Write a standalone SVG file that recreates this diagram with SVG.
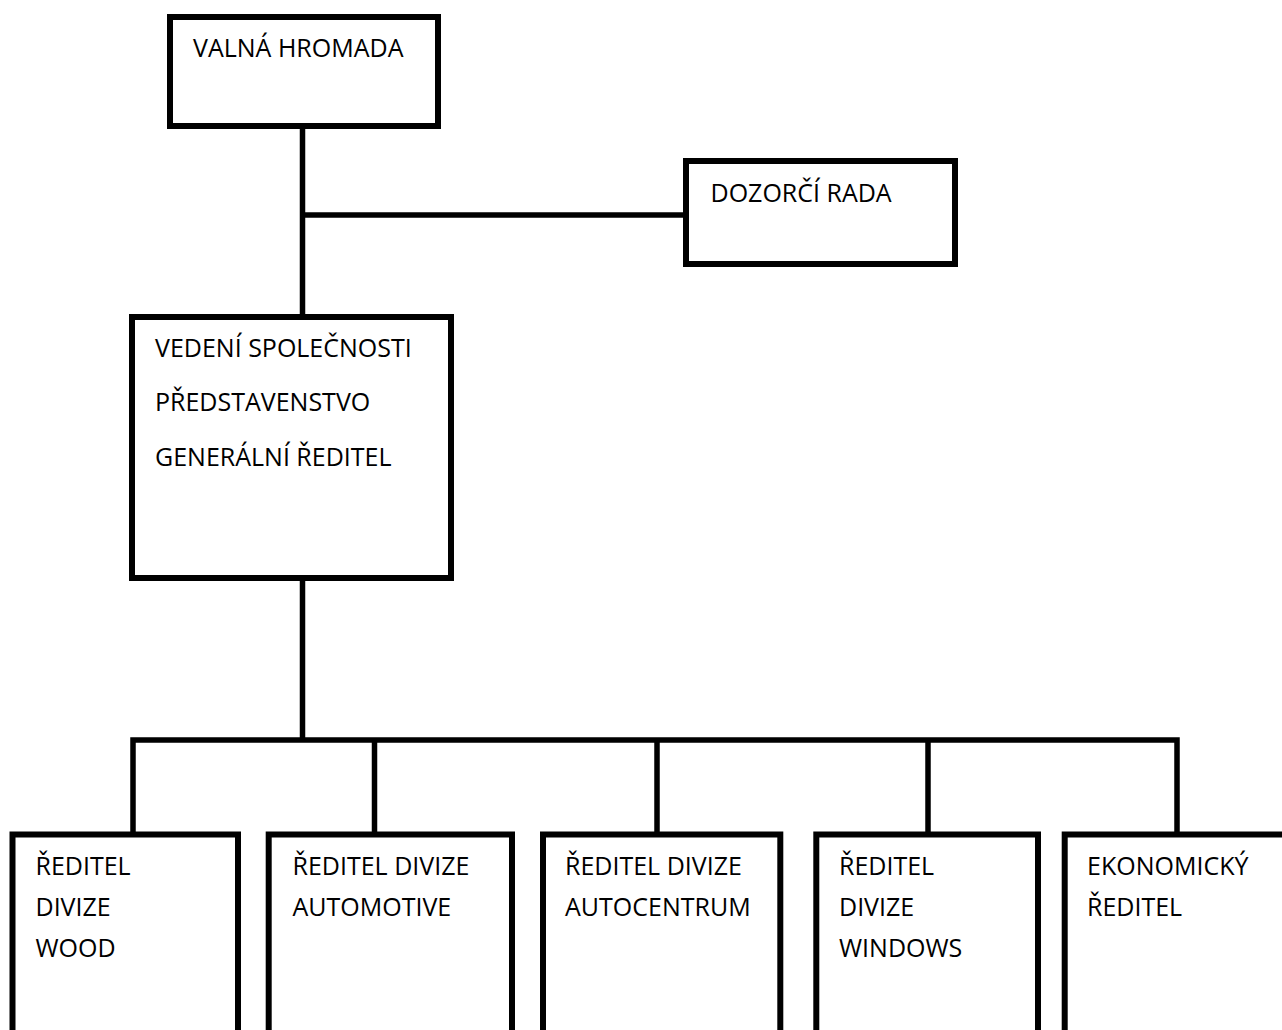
<svg xmlns="http://www.w3.org/2000/svg" width="1282" height="1030" viewBox="0 0 1282 1030">
  <style>
    .box { fill: #ffffff; stroke: #000000; stroke-width: 6; }
    .link { fill: none; stroke: #000000; stroke-width: 5.5; stroke-linejoin: miter; stroke-linecap: butt; }
    .label { font-family: "Open Sans", "Noto Sans", "Liberation Sans", sans-serif; font-size: 25px; fill: #000000; }
  </style>
  <rect width="1282" height="1030" fill="#ffffff"/>

  <!-- connectors -->
  <g id="connectors">
    <path class="link" d="M302.5,126 V317"/>
    <path class="link" d="M302.5,215 H686"/>
    <path class="link" d="M302.5,578 V740"/>
    <path class="link" d="M133,834.5 V740 H1177 V834.5"/>
    <path class="link" d="M374.5,740 V834.5"/>
    <path class="link" d="M657,740 V834.5"/>
    <path class="link" d="M928,740 V834.5"/>
  </g>

  <!-- general meeting -->
  <g id="valna-hromada">
    <rect class="box" x="170" y="17" width="268" height="109"/>
    <text class="label" x="193" y="57">VALNÁ HROMADA</text>
  </g>

  <!-- supervisory board -->
  <g id="dozorci-rada">
    <rect class="box" x="686" y="161" width="269" height="103"/>
    <text class="label" x="710.5" y="202">DOZORČÍ RADA</text>
  </g>

  <!-- company management -->
  <g id="vedeni-spolecnosti">
    <rect class="box" x="132" y="317" width="319" height="261"/>
    <text class="label" x="155" y="357">VEDENÍ SPOLEČNOSTI</text>
    <text class="label" x="155" y="411">PŘEDSTAVENSTVO</text>
    <text class="label" x="155" y="466">GENERÁLNÍ ŘEDITEL</text>
  </g>

  <!-- division directors -->
  <g id="divize-wood">
    <rect class="box" x="12.5" y="834.5" width="225.5" height="220"/>
    <text class="label" x="35.5" y="875">ŘEDITEL</text>
    <text class="label" x="35.5" y="916">DIVIZE</text>
    <text class="label" x="35.5" y="957">WOOD</text>
  </g>

  <g id="divize-automotive">
    <rect class="box" x="268.7" y="834.5" width="243.3" height="220"/>
    <text class="label" x="292.5" y="875">ŘEDITEL DIVIZE</text>
    <text class="label" x="292.5" y="916">AUTOMOTIVE</text>
  </g>

  <g id="divize-autocentrum">
    <rect class="box" x="543" y="834.5" width="237.3" height="220"/>
    <text class="label" x="565" y="875">ŘEDITEL DIVIZE</text>
    <text class="label" x="565" y="916">AUTOCENTRUM</text>
  </g>

  <g id="divize-windows">
    <rect class="box" x="816.3" y="834.5" width="221.7" height="220"/>
    <text class="label" x="839" y="875">ŘEDITEL</text>
    <text class="label" x="839" y="916">DIVIZE</text>
    <text class="label" x="839" y="957">WINDOWS</text>
  </g>

  <g id="ekonomicky-reditel">
    <rect class="box" x="1064.7" y="834.5" width="240" height="220"/>
    <text class="label" x="1087" y="875">EKONOMICKÝ</text>
    <text class="label" x="1087" y="916">ŘEDITEL</text>
  </g>
</svg>
